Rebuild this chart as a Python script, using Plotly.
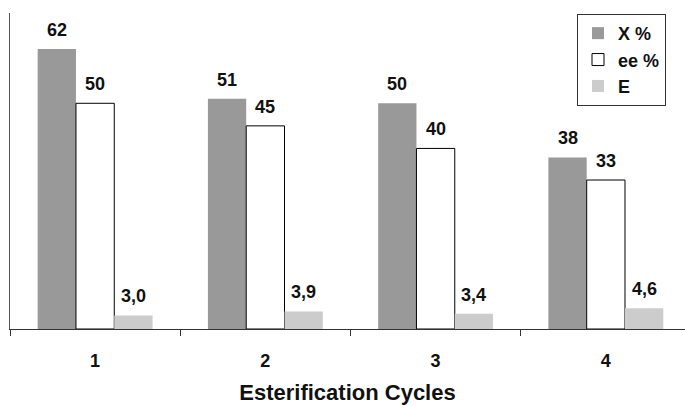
import plotly.graph_objects as go

cycles = ["1", "2", "3", "4"]
conversion = [62, 51, 50, 38]          # X %
enantiomeric_excess = [50, 45, 40, 33]  # ee %
e_value = [3.0, 3.9, 3.4, 4.6]          # E
e_labels = ["3,0", "3,9", "3,4", "4,6"]

FONT = "Liberation Sans, Arial, sans-serif"
BAR_W = 0.225

series = [
    ("X %", conversion, [str(v) for v in conversion], "#999999", "#999999", 0, "g1"),
    ("ee %", enantiomeric_excess, [str(v) for v in enantiomeric_excess], "#ffffff", "#000000", 1, "g2"),
    ("E", e_value, e_labels, "#cccccc", "#cccccc", 0, "g3"),
]

fig = go.Figure()
for name, vals, labels, fill, edge, lw, grp in series:
    fig.add_trace(go.Bar(
        x=cycles, y=vals, name=f"<b>{name}</b>",
        marker=dict(color=fill, line=dict(color=edge, width=lw)),
        legendgroup=grp,
    ))

# value labels above each bar
offsets = [-BAR_W, 0, BAR_W]
for (name, vals, labels, *_), off in zip(series, offsets):
    for i, (v, lab) in enumerate(zip(vals, labels)):
        fig.add_annotation(
            x=i + off, y=v, text=f"<b>{lab}</b>", showarrow=False,
            yanchor="bottom", yshift=7,
            font=dict(family=FONT, size=18, color="#111111"),
        )

fig.update_layout(
    width=685, height=406,
    margin=dict(l=10, r=0, t=13, b=77),
    paper_bgcolor="white", plot_bgcolor="white",
    barmode="group", bargap=0.325, bargroupgap=0,
    font=dict(family=FONT, color="#111111"),
    showlegend=True,
    legend=dict(
        x=0.84, y=0.997, xanchor="left", yanchor="top",
        bordercolor="#333333", borderwidth=1, bgcolor="white",
        font=dict(family=FONT, size=18, color="#111111"),
        traceorder="grouped", tracegroupgap=0,
        itemwidth=30,
    ),
    xaxis=dict(
        type="category", range=[-0.5, 3.465],
        showline=True, linecolor="#333333", linewidth=1,
        ticks="outside", tickson="boundaries", ticklen=6, tickcolor="#333333",
        tickfont=dict(family=FONT, size=18, color="#111111"),
        tickprefix="<b>", ticksuffix="</b>",
        ticklabelstandoff=15,
        showgrid=False, zeroline=False,
        title=dict(text="<b>Esterification Cycles</b>",
                   font=dict(family=FONT, size=22, color="#111111"), standoff=15),
    ),
    yaxis=dict(
        range=[0, 70], showline=True, linecolor="#555555", linewidth=1,
        showticklabels=False, ticks="", showgrid=False, zeroline=False,
    ),
)

fig.write_html("out.html")
